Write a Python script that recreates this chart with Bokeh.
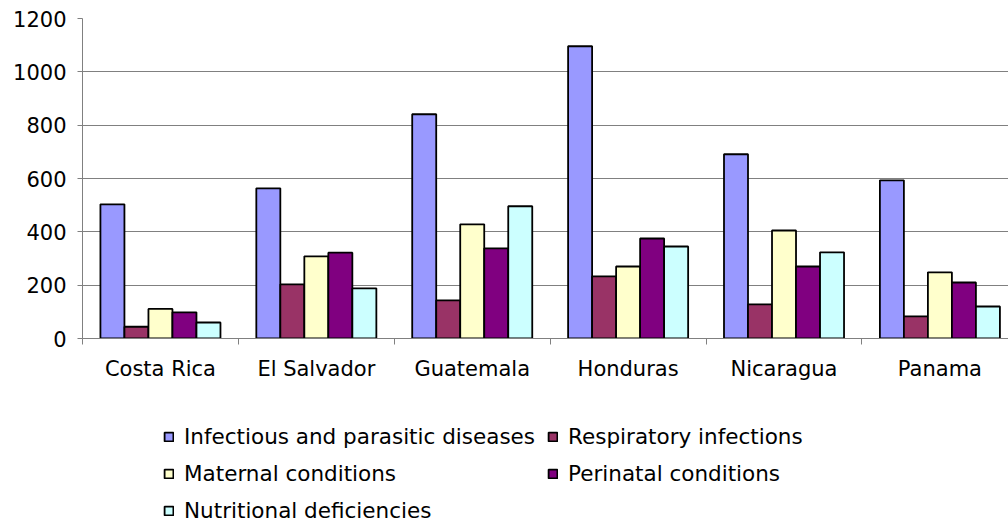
from bokeh.plotting import figure
from bokeh.layouts import column
from bokeh.models import (Range1d, FixedTicker, Legend, LegendItem, ColumnDataSource)
from bokeh.embed import file_html
from bokeh.resources import INLINE

countries = ["Costa Rica", "El Salvador", "Guatemala", "Honduras", "Nicaragua", "Panama"]
series = ["Infectious and parasitic diseases", "Respiratory infections",
          "Maternal conditions", "Perinatal conditions", "Nutritional deficiencies"]
infectious = [503, 563, 841, 1096, 691, 593]
respiratory = [44, 203, 143, 233, 128, 83]
maternal = [111, 308, 428, 270, 405, 248]
perinatal = [98, 322, 338, 375, 270, 210]
nutritional = [60, 188, 496, 345, 323, 120]
colors = ["#9999FF", "#993366", "#FFFFCC", "#800080", "#CCFFFF"]
yticks = [0, 200, 400, 600, 800, 1000, 1200]

values = [infectious, respiratory, maternal, perinatal, nutritional]
FONT = "DejaVu Sans"

p = figure(width=1008, height=390, output_backend="svg", toolbar_location=None,
           x_range=Range1d(0, 5.94), y_range=Range1d(0, 1200),
           min_border_left=82, min_border_right=0, min_border_top=18,
           min_border_bottom=52)
p.outline_line_color = None
p.background_fill_color = "white"
p.border_fill_color = "white"

# legend in its own panel below the chart; its bar renderers are hidden
leg = figure(width=1008, height=132, output_backend="svg", toolbar_location=None,
             x_range=Range1d(100, 101), y_range=Range1d(-3000, -2000),
             min_border_left=82, min_border_right=0, min_border_top=0,
             min_border_bottom=0)
leg.axis.visible = False
leg.grid.visible = False
leg.outline_line_color = None
leg.border_fill_color = "white"
leg.background_fill_color = "white"

bar_w = 0.154
items = []
for k, (name, vals, col) in enumerate(zip(series, values, colors)):
    xs = [i + 0.5 + (k - 2) * bar_w for i in range(len(countries))]
    src = ColumnDataSource(dict(x=xs, top=vals))
    p.vbar(x="x", top="top", width=bar_w, bottom=0, source=src,
           fill_color=col, line_color="black", line_width=1.8)
    r = leg.vbar(x="x", top="top", width=bar_w, bottom=0, source=src,
                 fill_color=col, line_color="black", line_width=1.8)
    r.visible = False
    items.append(LegendItem(label=name, renderers=[r]))

# y axis
p.yaxis.ticker = FixedTicker(ticks=yticks)
p.yaxis.axis_line_color = "#808080"
p.yaxis.major_tick_line_color = "#808080"
p.yaxis.major_tick_out = 5
p.yaxis.major_tick_in = 0
p.yaxis.minor_tick_line_color = None
p.yaxis.major_label_text_font = FONT
p.yaxis.major_label_text_font_size = "21px"
p.yaxis.major_label_text_color = "black"
p.yaxis.major_label_standoff = 11

# x axis
p.xaxis.ticker = FixedTicker(ticks=[i + 0.5 for i in range(len(countries))],
                             minor_ticks=list(range(len(countries) + 1)))
p.xaxis.major_label_overrides = {i + 0.5: c for i, c in enumerate(countries)}
p.xaxis.axis_line_color = "#808080"
p.xaxis.major_tick_line_color = None
p.xaxis.major_tick_out = 0
p.xaxis.minor_tick_line_color = "#808080"
p.xaxis.minor_tick_out = 6
p.xaxis.minor_tick_in = 0
p.xaxis.major_label_text_font = FONT
p.xaxis.major_label_text_font_size = "21px"
p.xaxis.major_label_text_color = "black"
p.xaxis.major_label_standoff = 12

p.xgrid.grid_line_color = None
p.ygrid.grid_line_color = "#808080"
p.ygrid.grid_line_width = 1
p.ygrid.ticker = FixedTicker(ticks=yticks)

legend = Legend(items=items, orientation="horizontal", ncols=2,
                location=(81, -1), padding=0, margin=0, spacing=12,
                glyph_width=11, glyph_height=11, label_standoff=10,
                label_text_font=FONT, label_text_font_size="21.5px",
                label_text_color="black",
                label_height=25, border_line_color=None,
                background_fill_alpha=0, inactive_fill_alpha=0)
leg.add_layout(legend, "center")

layout = column(p, leg, spacing=0)
open("out.html", "w").write(file_html(layout, INLINE))
